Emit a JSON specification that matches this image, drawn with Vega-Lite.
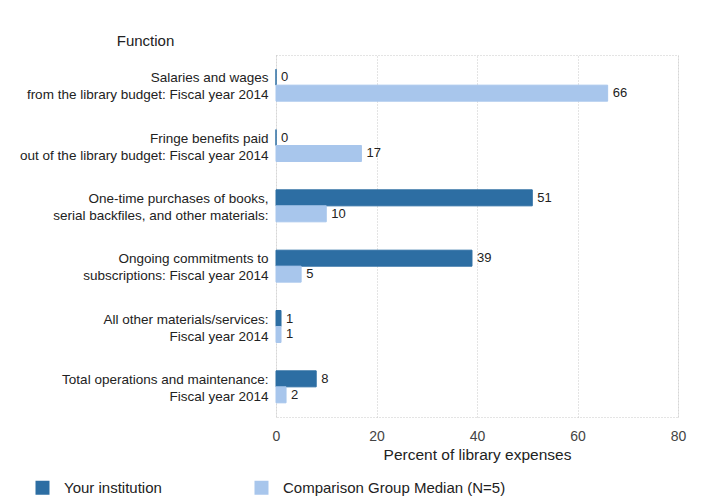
{
  "$schema": "https://vega.github.io/schema/vega-lite/v6.json",
  "width": 402,
  "height": 362,
  "autosize": {"type": "none"},
  "padding": {"left": 276, "top": 55, "right": 23, "bottom": 80},
  "background": "#ffffff",
  "config": {
    "font": "Liberation Sans",
    "view": {"stroke": "#c8c8c8", "strokeDash": [1, 2]},
    "axis": {"gridColor": "#c8c8c8", "gridDash": [1, 2], "domain": false, "ticks": false}
  },
  "data": {
    "values": [
      {"function": "Salaries and wages|from the library budget: Fiscal year 2014", "series": "Your institution", "value": 0},
      {"function": "Salaries and wages|from the library budget: Fiscal year 2014", "series": "Comparison Group Median (N=5)", "value": 66},
      {"function": "Fringe benefits paid|out of the library budget: Fiscal year 2014", "series": "Your institution", "value": 0},
      {"function": "Fringe benefits paid|out of the library budget: Fiscal year 2014", "series": "Comparison Group Median (N=5)", "value": 17},
      {"function": "One-time purchases of books,|serial backfiles, and other materials:", "series": "Your institution", "value": 51},
      {"function": "One-time purchases of books,|serial backfiles, and other materials:", "series": "Comparison Group Median (N=5)", "value": 10},
      {"function": "Ongoing commitments to|subscriptions: Fiscal year 2014", "series": "Your institution", "value": 39},
      {"function": "Ongoing commitments to|subscriptions: Fiscal year 2014", "series": "Comparison Group Median (N=5)", "value": 5},
      {"function": "All other materials/services:|Fiscal year 2014", "series": "Your institution", "value": 1},
      {"function": "All other materials/services:|Fiscal year 2014", "series": "Comparison Group Median (N=5)", "value": 1},
      {"function": "Total operations and maintenance:|Fiscal year 2014", "series": "Your institution", "value": 8},
      {"function": "Total operations and maintenance:|Fiscal year 2014", "series": "Comparison Group Median (N=5)", "value": 2}
    ]
  },
  "encoding": {
    "y": {
      "field": "function",
      "type": "nominal",
      "sort": null,
      "scale": {"paddingInner": 0.47, "paddingOuter": 0.235},
      "axis": {
        "title": "Function",
        "titleAngle": 0,
        "titleAlign": "center",
        "titleBaseline": "alphabetic",
        "titleX": -131,
        "titleY": -10,
        "titleFontSize": 15,
        "titleFontWeight": "normal",
        "titleColor": "#222222",
        "labelExpr": "split(datum.label, '|')",
        "labelLineHeight": 17,
        "labelOffset": -7,
        "labelFontSize": 13.5,
        "labelColor": "#222222",
        "labelPadding": 8,
        "labelLimit": 400,
        "grid": false
      }
    },
    "yOffset": {
      "field": "series",
      "type": "nominal",
      "sort": ["Your institution", "Comparison Group Median (N=5)"],
      "scale": {"paddingInner": 0}
    },
    "x": {
      "field": "value",
      "type": "quantitative",
      "scale": {"domain": [0, 80]},
      "axis": {
        "values": [0, 20, 40, 60, 80],
        "labelFlush": false,
        "title": "Percent of library expenses",
        "titleFontSize": 15.5,
        "titleFontWeight": "normal",
        "titleColor": "#222222",
        "titlePadding": 4,
        "labelFontSize": 14,
        "labelColor": "#444444",
        "labelPadding": 12,
        "grid": true
      }
    }
  },
  "layer": [
    {
      "mark": {"type": "bar", "strokeWidth": 1},
      "encoding": {
        "color": {
          "field": "series",
          "type": "nominal",
          "sort": ["Your institution", "Comparison Group Median (N=5)"],
          "scale": {"domain": ["Your institution", "Comparison Group Median (N=5)"], "range": ["#2d6ea3", "#a8c6ec"]},
          "legend": {
            "title": null,
            "orient": "none",
            "legendX": -241,
            "legendY": 425,
            "direction": "horizontal",
            "columns": 2,
            "columnPadding": 92,
            "symbolType": "square",
            "symbolSize": 196,
            "symbolStrokeWidth": 0,
            "labelFontSize": 15,
            "labelColor": "#222222",
            "labelOffset": 14,
            "labelLimit": 400
          }
        },
        "stroke": {
          "field": "series",
          "type": "nominal",
          "scale": {"domain": ["Your institution", "Comparison Group Median (N=5)"], "range": ["#2d6ea3", "#a8c6ec"]},
          "legend": null
        }
      }
    },
    {
      "mark": {"type": "text", "align": "left", "baseline": "middle", "dx": 5, "fontSize": 13, "color": "#222222"},
      "encoding": {"text": {"field": "value", "type": "quantitative"}}
    }
  ]
}
